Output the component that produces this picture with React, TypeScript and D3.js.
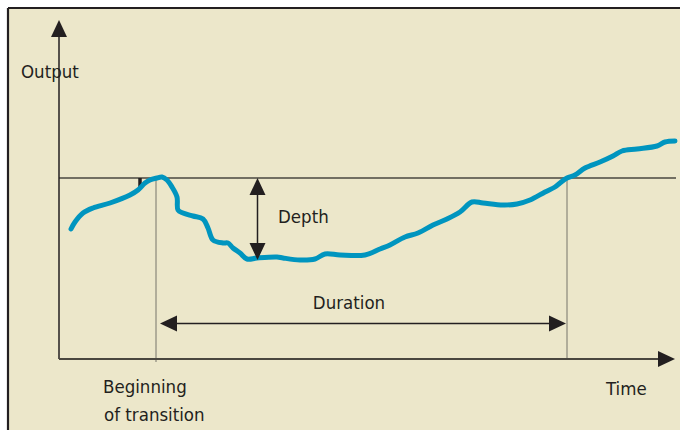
import React from "react";
import * as d3 from "d3";

// Time (t) and output (v)
const curveTime = [12,16,24,34,51,71,79,86,91,98,103,108,113,118,119,124,134,144,149,154,164,169,174,181,188,198,218,224,241,256,266,281,306,321,331,346,359,374,388,401,413,424,444,458,471,486,496,501,508,516,526,541,554,563,578,598,606,616];
const curveOutput = [130,137,146,151,156,164,169,176,179,181,182,179,172,162,149,146,143,140,131,119,116,116,111,106,100,101,102,101,99,100,105,104,104,110,114,122,126,134,140,147,157,156,154,155,159,167,172,176,181,184,191,197,203,208,210,213,217,218];

const referenceLevel = 181;
const transitionStart = 97;
const transitionEnd = 508;
const depthBottom = 99;
const durationLevel = 35.5;
const markTime = 81;
const markBottom = 170;
const timeMax = 616;
const outputMax = 339;

const labels = {
  y: "Output",
  x: "Time",
  depth: "Depth",
  duration: "Duration",
  begin1: "Beginning",
  begin2: "of transition",
};

const W = 680, H = 430;
const INK = "#231F20";
const BG = "#ECE7CA";
const FONT = "'DejaVu Sans Condensed', 'DejaVu Sans', sans-serif";

export default function App() {
  const x = d3.scaleLinear().domain([0, timeMax]).range([59, 675]);
  const y = d3.scaleLinear().domain([0, outputMax]).range([359, 20]);

  const pts: [number, number][] = curveTime.map((t, i) => [t, curveOutput[i]]);
  const line = d3
    .line<[number, number]>()
    .x((d) => x(d[0]))
    .y((d) => y(d[1]))
    .curve(d3.curveCatmullRom.alpha(0.5));

  const x0 = x(0), y0 = y(0);
  const ah = 17, aw = 8; // arrow length, half width

  const upHead = (px: number, py: number) => `M${px},${py} L${px - aw},${py + ah} L${px + aw},${py + ah} Z`;
  const downHead = (px: number, py: number) => `M${px},${py} L${px - aw},${py - ah} L${px + aw},${py - ah} Z`;
  const rightHead = (px: number, py: number) => `M${px},${py} L${px - ah},${py - aw} L${px - ah},${py + aw} Z`;
  const leftHead = (px: number, py: number) => `M${px},${py} L${px + ah},${py - aw} L${px + ah},${py + aw} Z`;

  const textStyle: React.CSSProperties = { fontFamily: FONT, fontSize: 18.5, fill: INK, fontStretch: "condensed" };

  const depthX = 257.5;
  const durY = y(durationLevel);

  return (
    <div style={{ position: "absolute", left: 0, top: 0 }}>
      <svg width={W} height={H} style={{ display: "block" }}>
        <rect x={0} y={0} width={W} height={H} fill="#ffffff" />
        <rect x={8} y={8} width={W - 8} height={H - 8} fill={BG} />
        <line x1={8} y1={8} x2={W} y2={8} stroke={INK} strokeWidth={2.2} />
        <line x1={8} y1={8} x2={8} y2={H} stroke={INK} strokeWidth={2.2} />

        {/* vertical transition markers */}
        <line x1={x(transitionStart)} y1={y(referenceLevel)} x2={x(transitionStart)} y2={y(-3)} stroke="#77756a" strokeWidth={1} />
        <line x1={x(transitionEnd)} y1={y(referenceLevel)} x2={x(transitionEnd)} y2={y(-1)} stroke="#77756a" strokeWidth={1} />

        {/* reference level */}
        <line x1={x0} y1={y(referenceLevel)} x2={x(timeMax + 1)} y2={y(referenceLevel)} stroke="#4a473f" strokeWidth={1.5} />

        {/* axes */}
        <line x1={x0} y1={y0} x2={x0} y2={y(outputMax) + 10} stroke={INK} strokeWidth={1.5} />
        <path d={upHead(x0, y(outputMax))} fill={INK} />
        <line x1={x0} y1={y0} x2={x(timeMax) - 10} y2={y0} stroke="#4a473f" strokeWidth={2} />
        <path d={rightHead(x(timeMax), y0)} fill={INK} />

        {/* small mark */}
        <line x1={x(markTime)} y1={y(referenceLevel)} x2={x(markTime)} y2={y(markBottom)} stroke={INK} strokeWidth={3.5} />

        {/* curve */}
        <path d={line(pts) || ""} fill="none" stroke="#0095BF" strokeWidth={5} strokeLinejoin="round" strokeLinecap="round" />

        {/* depth arrow */}
        <line x1={depthX} y1={y(referenceLevel) + 10} x2={depthX} y2={y(depthBottom) - 10} stroke={INK} strokeWidth={1.5} />
        <path d={upHead(depthX, y(referenceLevel))} fill={INK} />
        <path d={downHead(depthX, y(depthBottom))} fill={INK} />

        {/* duration arrow */}
        <line x1={x(transitionStart) + 14} y1={durY} x2={x(transitionEnd) - 10} y2={durY} stroke={INK} strokeWidth={1.5} />
        <path d={leftHead(x(transitionStart) + 4, durY)} fill={INK} />
        <path d={rightHead(x(transitionEnd) - 1, durY)} fill={INK} />

        {/* labels */}
        <text x={21} y={78} style={textStyle}>{labels.y}</text>
        <text x={278} y={223} style={textStyle}>{labels.depth}</text>
        <text x={349} y={309} textAnchor="middle" style={textStyle}>{labels.duration}</text>
        <text x={103} y={393} style={textStyle}>{labels.begin1}</text>
        <text x={104} y={421} style={textStyle}>{labels.begin2}</text>
        <text x={606} y={395} style={textStyle}>{labels.x}</text>
      </svg>
    </div>
  );
}
